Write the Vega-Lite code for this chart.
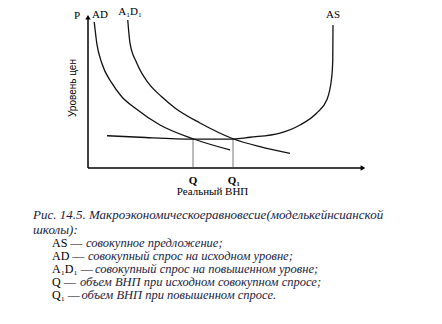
{
  "$schema": "https://vega.github.io/schema/vega-lite/v6.json",
  "width": 442,
  "height": 324,
  "autosize": {"type": "fit", "contains": "padding"},
  "padding": 0,
  "background": "white",
  "config": {"view": {"stroke": null}},
  "datasets": {
    "curves": [
      {"s": "AS", "x": 7.6, "y": 21.5},
      {"s": "AS", "x": 20.8, "y": 20.5},
      {"s": "AS", "x": 42, "y": 19.3},
      {"s": "AS", "x": 58, "y": 19.3},
      {"s": "AS", "x": 64.8, "y": 20.5},
      {"s": "AS", "x": 76.8, "y": 23.3},
      {"s": "AS", "x": 84.8, "y": 28.7},
      {"s": "AS", "x": 91.5, "y": 36.7},
      {"s": "AS", "x": 95.5, "y": 45.3},
      {"s": "AS", "x": 97.5, "y": 60.7},
      {"s": "AS", "x": 97.9, "y": 72},
      {"s": "AS", "x": 98.0, "y": 95.3},
      {"s": "AD", "x": 2.5, "y": 97.3},
      {"s": "AD", "x": 3.5, "y": 83.3},
      {"s": "AD", "x": 5.5, "y": 70},
      {"s": "AD", "x": 9.5, "y": 56.7},
      {"s": "AD", "x": 13.5, "y": 47.5},
      {"s": "AD", "x": 18.8, "y": 40},
      {"s": "AD", "x": 28.8, "y": 28.7},
      {"s": "AD", "x": 42, "y": 19.5},
      {"s": "AD", "x": 56.8, "y": 12},
      {"s": "A1D1", "x": 15.9, "y": 98.7},
      {"s": "A1D1", "x": 16.8, "y": 83.3},
      {"s": "A1D1", "x": 19.5, "y": 70},
      {"s": "A1D1", "x": 24.1, "y": 56.7},
      {"s": "A1D1", "x": 29.5, "y": 47.5},
      {"s": "A1D1", "x": 34.8, "y": 40},
      {"s": "A1D1", "x": 44.8, "y": 30},
      {"s": "A1D1", "x": 58, "y": 19.5},
      {"s": "A1D1", "x": 68.8, "y": 14.2},
      {"s": "A1D1", "x": 80.8, "y": 9.8}
    ],
    "axes": [
      {"x": 0, "y": 0, "x2": 0, "y2": 100},
      {"x": 0, "y": 0, "x2": 109.5, "y2": 0}
    ],
    "arrows": [
      {"x": 0, "y": 100.5, "shape": "triangle-up"},
      {"x": 110, "y": 0, "shape": "triangle-right"}
    ],
    "drops": [
      {"x": 42, "y": 0, "x2": 42, "y2": 19.3},
      {"x": 58, "y": 0, "x2": 58, "y2": 19.3}
    ],
    "labels": [
      {"t": "P", "x": -4.4, "y": 101.5},
      {"t": "AD", "x": 4.8, "y": 102},
      {"t": "A₁D₁", "x": 16.8, "y": 104},
      {"t": "AS", "x": 98, "y": 102},
      {"t": "Реальный ВНП", "x": 49.8, "y": -16.3}
    ],
    "qlabels": [
      {"t": "Q", "x": 42, "y": -8.7},
      {"t": "Q₁", "x": 58.3, "y": -8.7}
    ],
    "ytitle": [
      {"t": "Уровень цен", "x": -6, "y": 53.3}
    ],
    "capLead": [
      {"t": "Рис. 14.5. Макроэкономическоеравновесие(моделькейнсианской", "x": -22, "y": -31.3},
      {"t": "школы):", "x": -22, "y": -41.3}
    ],
    "capItalic": [
      {"t": "совокупное предложение;", "x": -0.8, "y": -50},
      {"t": "совокупный спрос на исходном уровне;", "x": 0, "y": -58.7},
      {"t": "совокупный спрос на повышенном уровне;", "x": 2.8, "y": -67.3},
      {"t": "объем ВНП при исходном совокупном спросе;", "x": -3.2, "y": -76},
      {"t": "объем ВНП при повышенном спросе.", "x": -2.6, "y": -84.5}
    ],
    "capUpright": [
      {"t": "AS —", "x": -14.4, "y": -50},
      {"t": "AD —", "x": -14.4, "y": -58.7},
      {"t": "A₁D₁ —", "x": -14.4, "y": -67.3},
      {"t": "Q —", "x": -14.4, "y": -76},
      {"t": "Q₁ —", "x": -14.4, "y": -84.5}
    ]
  },
  "encoding": {
    "x": {"field": "x", "type": "quantitative", "scale": {"domain": [-35.2, 141.6], "nice": false, "zero": false}, "axis": null},
    "y": {"field": "y", "type": "quantitative", "scale": {"domain": [-104, 112], "nice": false, "zero": false}, "axis": null}
  },
  "layer": [
    {
      "data": {"name": "axes"},
      "mark": {"type": "rule", "color": "#000", "strokeWidth": 1.5},
      "encoding": {"x2": {"field": "x2"}, "y2": {"field": "y2"}}
    },
    {
      "data": {"name": "arrows"},
      "mark": {"type": "point", "filled": true, "color": "#000", "size": 30, "opacity": 1},
      "encoding": {"shape": {"field": "shape", "type": "nominal", "scale": null}}
    },
    {
      "data": {"name": "drops"},
      "mark": {"type": "rule", "color": "#555", "strokeWidth": 0.8},
      "encoding": {"x2": {"field": "x2"}, "y2": {"field": "y2"}}
    },
    {
      "data": {"name": "curves"},
      "mark": {"type": "line", "color": "#111", "strokeWidth": 1.3, "interpolate": "monotone"},
      "encoding": {"detail": {"field": "s", "type": "nominal"}}
    },
    {
      "data": {"name": "labels"},
      "mark": {"type": "text", "font": "Liberation Serif", "fontSize": 11, "color": "#000", "align": "center", "baseline": "middle"},
      "encoding": {"text": {"field": "t"}}
    },
    {
      "data": {"name": "qlabels"},
      "mark": {"type": "text", "font": "Liberation Serif", "fontSize": 11, "fontWeight": "bold", "color": "#000", "align": "center", "baseline": "middle"},
      "encoding": {"text": {"field": "t"}}
    },
    {
      "data": {"name": "ytitle"},
      "mark": {"type": "text", "font": "Liberation Sans", "fontSize": 10, "color": "#000", "angle": 270, "align": "center", "baseline": "middle"},
      "encoding": {"text": {"field": "t"}}
    },
    {
      "data": {"name": "capLead"},
      "mark": {"type": "text", "font": "Liberation Serif", "fontStyle": "italic", "fontSize": 13, "color": "#1c1c40", "align": "left", "baseline": "middle"},
      "encoding": {"text": {"field": "t"}}
    },
    {
      "data": {"name": "capItalic"},
      "mark": {"type": "text", "font": "Liberation Serif", "fontStyle": "italic", "fontSize": 12.5, "color": "#1c1c40", "align": "left", "baseline": "middle"},
      "encoding": {"text": {"field": "t"}}
    },
    {
      "data": {"name": "capUpright"},
      "mark": {"type": "text", "font": "Liberation Serif", "fontSize": 12, "color": "#000", "align": "left", "baseline": "middle"},
      "encoding": {"text": {"field": "t"}}
    }
  ]
}
